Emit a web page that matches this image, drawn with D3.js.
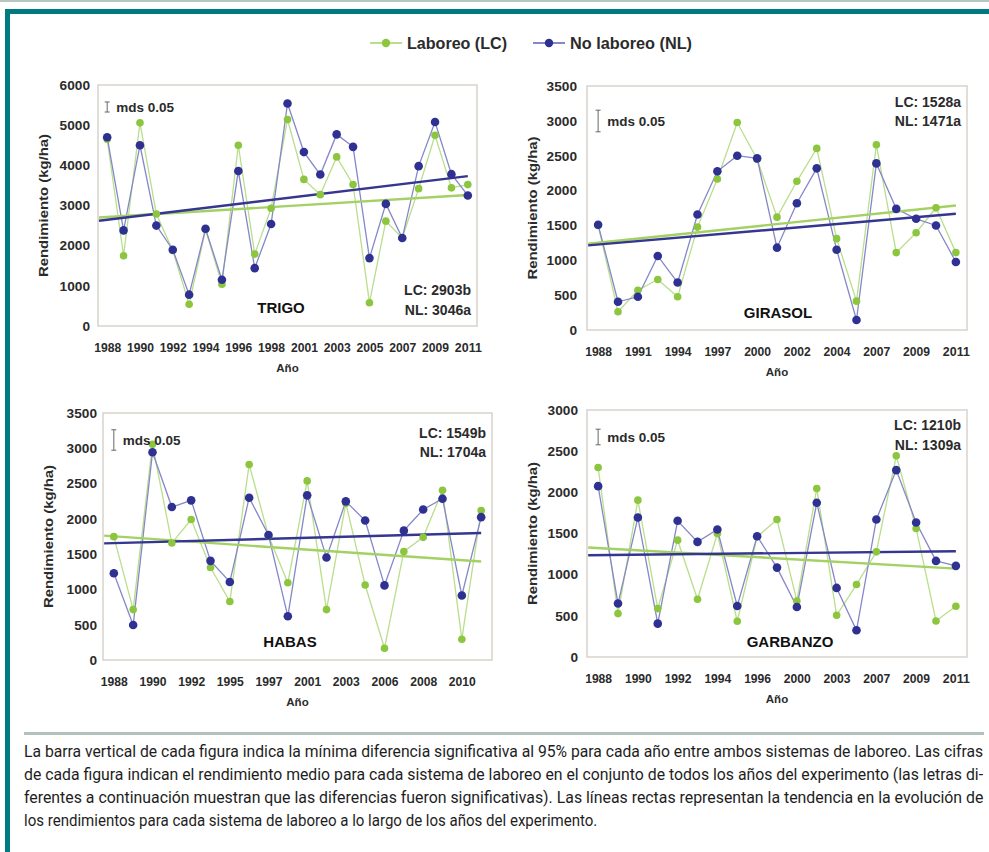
<!DOCTYPE html>
<html>
<head>
<meta charset="utf-8">
<script src="https://cdn.jsdelivr.net/npm/d3@7"></script>
<style>
  body { margin: 0; background: #fff; }
  svg { display: block; }
</style>
</head>
<body>
<svg id="viz_area" width="989" height="852"></svg>
<script>
// ---- data (kg/ha) ----
const trigoYears = [1988, 1989, 1990, 1991, 1992, 1993, 1994, 1995, 1996, 1997, 1998, 1999,
  2001, 2002, 2003, 2004, 2005, 2006, 2007, 2008, 2009, 2010, 2011]
const trigoLC = [4650, 1750, 5060, 2790, 1880, 540, 2400, 1040, 4500, 1790, 2930, 5140,
  3650, 3270, 4210, 3520, 580, 2610, 2190, 3420, 4750, 3440, 3520]
const trigoNL = [4700, 2380, 4500, 2500, 1900, 780, 2420, 1150, 3860, 1440, 2540, 5540,
  4330, 3770, 4770, 4460, 1690, 3040, 2190, 3980, 5080, 3780, 3250]

const girasolYears = [1988, 1990, 1991, 1993, 1994, 1996, 1997, 1998, 2000, 2001, 2002, 2003,
  2004, 2006, 2007, 2008, 2009, 2010, 2011]
const girasolLC = [1500, 262, 571, 724, 476, 1476, 2167, 2976, 2450, 1619, 2133, 2605,
  1310, 414, 2657, 1110, 1395, 1752, 1110]
const girasolNL = [1510, 405, 476, 1062, 681, 1657, 2276, 2500, 2462, 1181, 1819, 2319,
  1152, 143, 2390, 1738, 1595, 1500, 976]

const habasYears = [1988, 1989, 1990, 1991, 1992, 1994, 1995, 1996, 1997, 1999, 2001, 2002,
  2003, 2005, 2006, 2007, 2008, 2009, 2010, 2011]
const habasLC = [1748, 714, 3057, 1657, 1990, 1310, 829, 2771, 1760, 1095, 2538, 714,
  2220, 1062, 167, 1538, 1738, 2405, 295, 2119]
const habasNL = [1229, 495, 2943, 2167, 2262, 1405, 1105, 2300, 1771, 619, 2333, 1452,
  2248, 1976, 1057, 1833, 2133, 2286, 914, 2024]

const garbanzoYears = [1988, 1989, 1990, 1991, 1992, 1993, 1994, 1995, 1996, 1997, 2000, 2001,
  2003, 2005, 2007, 2008, 2009, 2010, 2011]
const garbanzoLC = [2302, 527, 1905, 588, 1419, 701, 1500, 434, 1460, 1670, 681, 2047,
  507, 880, 1277, 2444, 1561, 438, 616]
const garbanzoNL = [2075, 649, 1694, 405, 1654, 1398, 1548, 620, 1467, 1086, 608, 1873,
  839, 324, 1670, 2270, 1634, 1167, 1107]

// trend lines: value at left edge of the plot, value at last year
const trendLC = [[2700, 3260], [1238, 1786], [1762, 1395], [1330, 1074]]
const trendNL = [[2620, 3730], [1214, 1667], [1652, 1800], [1236, 1285]]

const cropNames = ['TRIGO', 'GIRASOL', 'HABAS', 'GARBANZO']
const yMaxima = [6000, 3500, 3500, 3000]
const yTickSteps = [1000, 500, 500, 500]
const mdsValues = [250, 310, 290, 190]
const meanLabels = [['LC: 2903b', 'NL: 3046a'], ['LC: 1528a', 'NL: 1471a'],
  ['LC: 1549b', 'NL: 1704a'], ['LC: 1210b', 'NL: 1309a']]

const legendLabels = ['Laboreo (LC)', 'No laboreo (NL)']

const captionLines = [
  'La barra vertical de cada figura indica la mínima diferencia significativa al 95% para cada año entre ambos sistemas de laboreo. Las cifras',
  'de cada figura indican el rendimiento medio para cada sistema de laboreo en el conjunto de todos los años del experimento (las letras di-',
  'ferentes a continuación muestran que las diferencias fueron significativas). Las líneas rectas representan la tendencia en la evolución de',
  'los rendimientos para cada sistema de laboreo a lo largo de los años del experimento.'
]

// ---- styling / layout ----
const colors = {
  lcMark: '#8cc63f', lcLine: '#b9de8c', lcTrend: '#a3d163',
  nlMark: '#2e3192', nlLine: '#8587c9', nlTrend: '#34368f',
  teal: '#007a80', frame: '#d8d2cc', text: '#2b2b2b'
}
const REG = "'Liberation Sans', Arial, sans-serif"

const layout = [
  { left: 98, right: 477, top: 85, bottom: 326, yPad: 8, meanY: [290, 310], mdsY: 107, nameX: 281, nameY: 313 },
  { left: 587, right: 967, top: 86, bottom: 330, yPad: 10, meanY: [102, 121], mdsY: 121, nameX: 778, nameY: 318 },
  { left: 103, right: 492, top: 413, bottom: 660, yPad: 6, meanY: [433, 452], mdsY: 440, nameX: 290, nameY: 647 },
  { left: 587, right: 967, top: 410, bottom: 657, yPad: 9, meanY: [425, 445], mdsY: 437, nameX: 790, nameY: 647 }
]

const svg = d3.select('#viz_area')

drawFrame()
drawLegend()

const series = [
  [trigoYears, trigoLC, trigoNL],
  [girasolYears, girasolLC, girasolNL],
  [habasYears, habasLC, habasNL],
  [garbanzoYears, garbanzoLC, garbanzoNL]
]
series.forEach(function (s, i) { drawPanel(i, s[0], s[1], s[2]) })

drawCaption()

function drawFrame() {
  svg.append('rect').attr('width', 989).attr('height', 852).attr('fill', '#fff')
  svg.append('rect').attr('x', 0).attr('y', 0).attr('width', 989).attr('height', 2).attr('fill', '#b8c6c1')
  svg.append('rect').attr('x', 5).attr('y', 9).attr('width', 984).attr('height', 5).attr('fill', colors.teal)
  svg.append('rect').attr('x', 5).attr('y', 9).attr('width', 5).attr('height', 843).attr('fill', colors.teal)
  svg.append('rect').attr('x', 24).attr('y', 732).attr('width', 960).attr('height', 3).attr('fill', '#b3c0bb')
}

function drawLegend() {
  const items = [
    { x: 370, label: legendLabels[0], mark: colors.lcMark, line: colors.lcLine, w: 100 },
    { x: 533, label: legendLabels[1], mark: colors.nlMark, line: colors.nlLine, w: 122 }
  ]
  const g = svg.append('g').attr('transform', 'translate(0,43)')
  items.forEach(function (d) {
    g.append('line').attr('x1', d.x).attr('x2', d.x + 32).attr('stroke', d.line).attr('stroke-width', 2)
    g.append('circle').attr('cx', d.x + 16).attr('r', 4.2).attr('fill', d.mark)
    g.append('text').attr('x', d.x + 37).attr('dy', '0.35em')
      .attr('font-family', REG).attr('font-weight', 'bold').attr('font-size', 16)
      .attr('fill', colors.text)
      .attr('textLength', d.w).attr('lengthAdjust', 'spacingAndGlyphs')
      .text(d.label)
  })
}

function drawPanel(i, years, lc, nl) {
  const box = layout[i]
  const g = svg.append('g').attr('class', 'panel')

  const x = d3.scalePoint()
    .domain(years)
    .range([box.left, box.right])
    .padding(0.56)

  const y = d3.scaleLinear()
    .domain([0, yMaxima[i]])
    .range([box.bottom, box.top])

  // index scale for the trend lines
  const xi = d3.scaleLinear()
    .domain([0, years.length - 1])
    .range([x(years[0]), x(years[years.length - 1])])

  g.append('rect')
    .attr('x', box.left).attr('y', box.top)
    .attr('width', box.right - box.left).attr('height', box.bottom - box.top)
    .attr('fill', 'none').attr('stroke', colors.frame).attr('stroke-width', 1.5)

  const yAxis = g.append('g')
    .attr('transform', 'translate(' + box.left + ',0)')
    .call(d3.axisLeft(y)
      .tickValues(d3.range(0, yMaxima[i] + 1, yTickSteps[i]))
      .tickFormat(d3.format('d'))
      .tickSize(0).tickPadding(box.yPad))
  yAxis.select('.domain').remove()
  yAxis.selectAll('text')
    .attr('font-family', REG).attr('font-weight', 'bold').attr('font-size', 13.5)
    .attr('fill', colors.text)
    .attr('textLength', function (d) { return String(d).length * 7.6 })
    .attr('lengthAdjust', 'spacingAndGlyphs')

  const xAxis = g.append('g')
    .attr('transform', 'translate(0,' + box.bottom + ')')
    .call(d3.axisBottom(x)
      .tickValues(years.filter(function (d, k) { return k % 2 === 0 }))
      .tickSize(0).tickPadding(16))
  xAxis.select('.domain').remove()
  xAxis.selectAll('text')
    .attr('font-family', REG).attr('font-weight', 'bold').attr('font-size', 13.5)
    .attr('fill', colors.text)
    .attr('textLength', 27).attr('lengthAdjust', 'spacingAndGlyphs')

  const midX = (box.left + box.right) / 2
  g.append('text')
    .attr('x', midX).attr('y', box.bottom + 46)
    .attr('text-anchor', 'middle')
    .attr('font-family', REG).attr('font-weight', 'bold').attr('font-size', 11.5)
    .attr('fill', colors.text)
    .text('Año')

  g.append('text')
    .attr('transform', 'translate(' + (box.left - 55) + ',' + ((box.top + box.bottom) / 2) + ') rotate(-90)')
    .attr('text-anchor', 'middle').attr('dy', '0.35em')
    .attr('font-family', REG).attr('font-weight', 'bold').attr('font-size', 13.5)
    .attr('fill', colors.text)
    .attr('textLength', 143).attr('lengthAdjust', 'spacingAndGlyphs')
    .text('Rendimiento (kg/ha)')

  // connecting lines
  const line = d3.line()
    .x(function (d, k) { return x(years[k]) })
    .y(function (d) { return y(d) })

  g.append('path').datum(lc).attr('d', line)
    .attr('fill', 'none').attr('stroke', colors.lcLine).attr('stroke-width', 1.3)
  g.append('path').datum(nl).attr('d', line)
    .attr('fill', 'none').attr('stroke', colors.nlLine).attr('stroke-width', 1.3)

  // trend lines
  const trends = [[trendLC[i], colors.lcTrend], [trendNL[i], colors.nlTrend]]
  trends.forEach(function (t) {
    g.append('line')
      .attr('x1', xi(-0.5)).attr('y1', y(t[0][0]))
      .attr('x2', xi(years.length - 1)).attr('y2', y(t[0][1]))
      .attr('stroke', t[1]).attr('stroke-width', 2.4)
  })

  // markers
  g.selectAll('circle.lc').data(lc).enter().append('circle')
    .attr('class', 'lc')
    .attr('cx', function (d, k) { return x(years[k]) })
    .attr('cy', function (d) { return y(d) })
    .attr('r', 3.8)
    .attr('fill', colors.lcMark)

  g.selectAll('circle.nl').data(nl).enter().append('circle')
    .attr('class', 'nl')
    .attr('cx', function (d, k) { return x(years[k]) })
    .attr('cy', function (d) { return y(d) })
    .attr('r', 4.3)
    .attr('fill', colors.nlMark)

  // mds bar
  const bx = x(years[0])
  const half = (y(0) - y(mdsValues[i])) / 2
  const bar = g.append('g').attr('stroke', '#666').attr('stroke-width', 1)
  bar.append('line').attr('x1', bx).attr('x2', bx).attr('y1', box.mdsY - half).attr('y2', box.mdsY + half)
  bar.append('line').attr('x1', bx - 2.5).attr('x2', bx + 2.5).attr('y1', box.mdsY - half).attr('y2', box.mdsY - half)
  bar.append('line').attr('x1', bx - 2.5).attr('x2', bx + 2.5).attr('y1', box.mdsY + half).attr('y2', box.mdsY + half)
  g.append('text')
    .attr('x', bx + 9).attr('y', box.mdsY).attr('dy', '0.35em')
    .attr('font-family', REG).attr('font-weight', 'bold').attr('font-size', 13.5)
    .attr('fill', colors.text)
    .text('mds 0.05')

  // mean yields
  meanLabels[i].forEach(function (m, k) {
    g.append('text')
      .attr('x', box.right - 6).attr('y', box.meanY[k]).attr('dy', '0.35em')
      .attr('text-anchor', 'end')
      .attr('font-family', REG).attr('font-weight', 'bold').attr('font-size', 14)
      .attr('fill', colors.text)
      .text(m)
  })

  g.append('text')
    .attr('x', box.nameX).attr('y', box.nameY)
    .attr('text-anchor', 'middle')
    .attr('font-family', REG).attr('font-weight', 'bold').attr('font-size', 15)
    .attr('fill', '#111')
    .text(cropNames[i])
}

function drawCaption() {
  const left = 24
  const width = 960
  const lastWidth = 574
  // each line sits in its own group, squeezed horizontally so the
  // first three lines are justified to the full width
  const rows = captionLines.map(function (t, k) {
    const row = svg.append('g')
    const txt = row.append('text')
      .attr('x', 0).attr('y', 757 + k * 23)
      .attr('font-family', 'Roboto, sans-serif').attr('font-size', 16)
      .attr('fill', '#1e1e1e')
      .text(t)
    return { row: row, w: txt.node().getComputedTextLength() }
  })
  rows.forEach(function (r, k) {
    const sx = (k < 3 ? width : lastWidth) / r.w
    r.row.attr('transform', 'translate(' + left + ',0) scale(' + sx + ',1)')
  })
}
</script>
</body>
</html>
